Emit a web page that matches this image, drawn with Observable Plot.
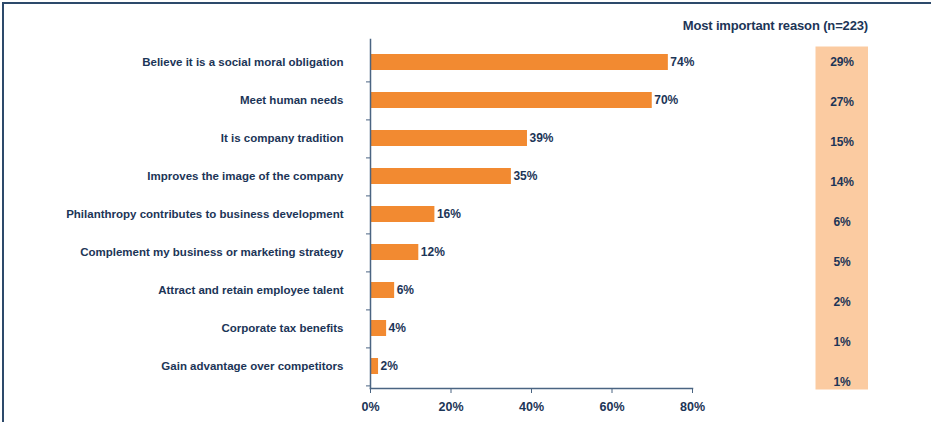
<!DOCTYPE html>
<html>
<head>
<meta charset="utf-8">
<script src="https://cdn.jsdelivr.net/npm/d3@7"></script>
<script src="https://cdn.jsdelivr.net/npm/@observablehq/plot@0.6"></script>
<style>
  body { margin: 0; background: #fff; }
  #wrap { position: relative; width: 931px; height: 422px; overflow: hidden; }
  #wrap svg { position: absolute; top: 0; }
  .line { position: absolute; background: #2d4a6b; }
  #title { position: absolute; right: 63px; top: 18px; font: bold 13px "Arial Narrow", "Liberation Sans", Arial, sans-serif; color: #1c3557; white-space: nowrap; letter-spacing: -0.15px; }
</style>
</head>
<body>
<div id="wrap">
  <div id="title">Most important reason (n=223)</div>
</div>
<script>
const categories = [
  "Believe it is a social moral obligation",
  "Meet human needs",
  "It is company tradition",
  "Improves the image of the company",
  "Philanthropy contributes to business development",
  "Complement my business or marketing strategy",
  "Attract and retain employee talent",
  "Corporate tax benefits",
  "Gain advantage over competitors"
];
const allReasons = [74, 70, 39, 35, 16, 12, 6, 4, 2];
const mostImportant = [29, 27, 15, 14, 6, 5, 2, 1, 1];
const xTicks = [0, 20, 40, 60, 80];

const navy = "#1c3557";
const font = '"Arial Narrow", "Liberation Sans", Arial, sans-serif';
const data = categories.map((c, i) => ({category: c, value: allReasons[i], top: mostImportant[i]}));

const wrap = document.getElementById("wrap");

const main = Plot.plot({
  width: 931,
  height: 422,
  marginLeft: 370,
  marginRight: 239,
  marginTop: 39,
  marginBottom: 34,
  style: {fontFamily: font, fontWeight: "bold", fontSize: "11.5px", color: navy, background: "transparent"},
  x: {domain: [0, 80], ticks: xTicks, tickFormat: d => d + "%"},
  y: {type: "band", domain: categories, paddingInner: 0.59, paddingOuter: 0.295},
  marks: [
    Plot.barX(data, {y: "category", x: "value", fill: "#f28a31"}),
    Plot.text(data, {y: "category", x: "value", text: d => d.value + "%", textAnchor: "start", dx: 2, fill: navy, fontSize: 12, letterSpacing: "-0.2px"}),
    Plot.axisX({ticks: xTicks, tickFormat: d => d + "%", tickSize: 5, tickPadding: 9, stroke: "#4a6482", fill: navy, fontSize: 12.5, label: null}),
    Plot.axisY({tickSize: 0, tickPadding: 27, fill: navy, fontSize: 11.5, label: null}),
    Plot.axisY({tickSize: 4, tickFormat: null, dy: 19.4, stroke: "#4a6482", label: null}),
    Plot.frame({anchor: "left", stroke: "#4a6482", strokeWidth: 1.5}),
    Plot.frame({anchor: "bottom", stroke: "#4a6482", strokeWidth: 1.5})
  ]
});
wrap.appendChild(main);
main.style.left = "0px";

const side = Plot.plot({
  width: 53,
  height: 422,
  marginLeft: 0,
  marginRight: 0,
  marginTop: 42,
  marginBottom: 20,
  style: {fontFamily: font, fontWeight: "bold", fontSize: "12px", color: navy, background: "transparent", letterSpacing: "-0.2px"},
  x: {axis: null},
  y: {type: "band", domain: categories, axis: null, padding: 0},
  marks: [
    Plot.frame({fill: "#fbcba1", stroke: null, insetTop: 4, insetBottom: 13}),
    Plot.text(data, {y: "category", frameAnchor: "middle", text: d => d.top + "%", fill: navy, fontSize: 12})
  ]
});
wrap.appendChild(side);
side.style.left = "815px";

const l1 = document.createElement("div"); l1.className = "line";
l1.style.cssText += "left:2px;top:2px;width:2px;height:420px;";
const l2 = document.createElement("div"); l2.className = "line";
l2.style.cssText += "left:2px;top:2px;width:929px;height:2px;";
wrap.appendChild(l1); wrap.appendChild(l2);
</script>
</body>
</html>
